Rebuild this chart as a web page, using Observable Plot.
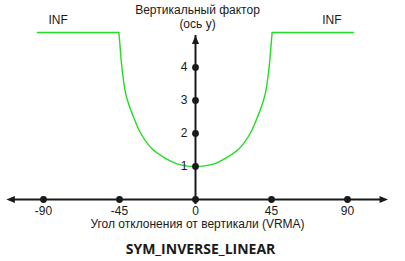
<!DOCTYPE html>
<html><head><meta charset="utf-8">
<script src="https://cdn.jsdelivr.net/npm/d3@7"></script>
<script src="https://cdn.jsdelivr.net/npm/@observablehq/plot@0.6"></script>
<style>body{margin:0;background:#fff}</style>
</head><body><div id="chart"></div>
<script>
// Data
const xTicks = [-90, -45, 0, 45, 90];
const yTicks = [1, 2, 3, 4];
const curveX = [-45.4, -44.8, -43.8, -42.6, -41.3, -39.3, -36.3, -33.3, -29.4, -25.5, -18.5, -10.5, -4.5, 0, 4.5, 10.5, 18.5, 25.5, 29.4, 33.3, 36.3, 39.3, 41.3, 42.6, 43.8, 44.8, 45.4];
const curveY = [5.06, 4.72, 4.11, 3.6, 3.2, 2.85, 2.45, 2.09, 1.76, 1.52, 1.27, 1.07, 1.01, 1.0, 1.01, 1.07, 1.27, 1.52, 1.76, 2.09, 2.45, 2.85, 3.2, 3.6, 4.11, 4.72, 5.06];
const infLeftX = [-93.6, -45.4];
const infRightX = [45.4, 93.6];
const infY = 5.06;
const xAxisExtent = [-112, 114];
const yAxisExtent = [0, 4.97];
const infLabel = "INF";
const yTitle = ["Вертикальный фактор", "(ось y)"];
const xTitle = "Угол отклонения от вертикали (VRMA)";
const chartTitle = "SYM_INVERSE_LINEAR";

const curve = curveX.map((x, i) => ({x, y: curveY[i]}));
const infLeft = infLeftX.map(x => ({x, y: infY}));
const infRight = infRightX.map(x => ({x, y: infY}));

const arrowSymbol = {
  draw(ctx) {
    ctx.moveTo(0, 0);
    ctx.lineTo(3.6, 8.5);
    ctx.lineTo(-3.6, 8.5);
    ctx.closePath();
  }
};
const tips = [
  {x: xAxisExtent[0], y: 0, dir: -90},
  {x: xAxisExtent[1], y: 0, dir: 90},
  {x: 0, y: yAxisExtent[1], dir: 0}
];

const ink = "#1a1a1a";
const green = "#22dd22";

const plot = Plot.plot({
  width: 405,
  height: 261,
  margin: 0,
  style: {fontFamily: "'Liberation Sans', Arial, sans-serif", fontSize: "12px", background: "#fff", color: ink},
  x: {domain: [-90, 90], range: [43, 347], axis: null},
  y: {domain: [0, 4], range: [199, 67], axis: null},
  marks: [
    Plot.ruleY([0], {x1: xAxisExtent[0], x2: xAxisExtent[1], stroke: ink, strokeWidth: 2, insetLeft: 5, insetRight: 5}),
    Plot.ruleX([0], {y1: yAxisExtent[0], y2: yAxisExtent[1], stroke: ink, strokeWidth: 2, insetTop: 5}),
    Plot.dot(tips, {x: "x", y: "y", rotate: "dir", symbol: arrowSymbol, fill: ink, stroke: "none"}),
    Plot.line(infLeft, {x: "x", y: "y", stroke: green, strokeWidth: 1.4}),
    Plot.line(infRight, {x: "x", y: "y", stroke: green, strokeWidth: 1.4}),
    Plot.line(curve, {x: "x", y: "y", stroke: green, strokeWidth: 1.4, curve: "catmull-rom"}),
    Plot.dot(xTicks, {x: d => d, y: 0, r: 3.4, fill: ink, stroke: "none"}),
    Plot.dot(yTicks, {x: 0, y: d => d, r: 3.4, fill: ink, stroke: "none"}),
    Plot.text(xTicks, {x: d => d, y: 0, text: d => String(d), dy: 12, fill: ink}),
    Plot.text(yTicks, {x: 0, y: d => d, text: d => String(d), dx: -8, textAnchor: "end", fill: ink}),
    Plot.text([infLabel], {x: infLeftX[0], y: infY, text: d => d, dx: 11, dy: -12, textAnchor: "start", fill: ink}),
    Plot.text([infLabel], {x: infRightX[1], y: infY, text: d => d, dx: -12, dy: -12, textAnchor: "end", fill: ink}),
    Plot.text([yTitle[0]], {x: 0, y: yAxisExtent[1], text: d => d, dx: 2, dy: -25.5, fill: ink}),
    Plot.text([yTitle[1]], {x: 0, y: yAxisExtent[1], text: d => d, dx: 2, dy: -11, fill: ink}),
    Plot.text([xTitle], {x: 0, y: 0, text: d => d, dx: 2, dy: 24.5, fill: ink}),
    Plot.text([chartTitle], {x: 0, y: 0, text: d => d, dx: 5, dy: 50, fill: ink, fontWeight: "bold", fontSize: 14, fontFamily: "'Open Sans', 'Noto Sans', sans-serif"})
  ]
});
document.getElementById("chart").appendChild(plot);
</script>
</body></html>
